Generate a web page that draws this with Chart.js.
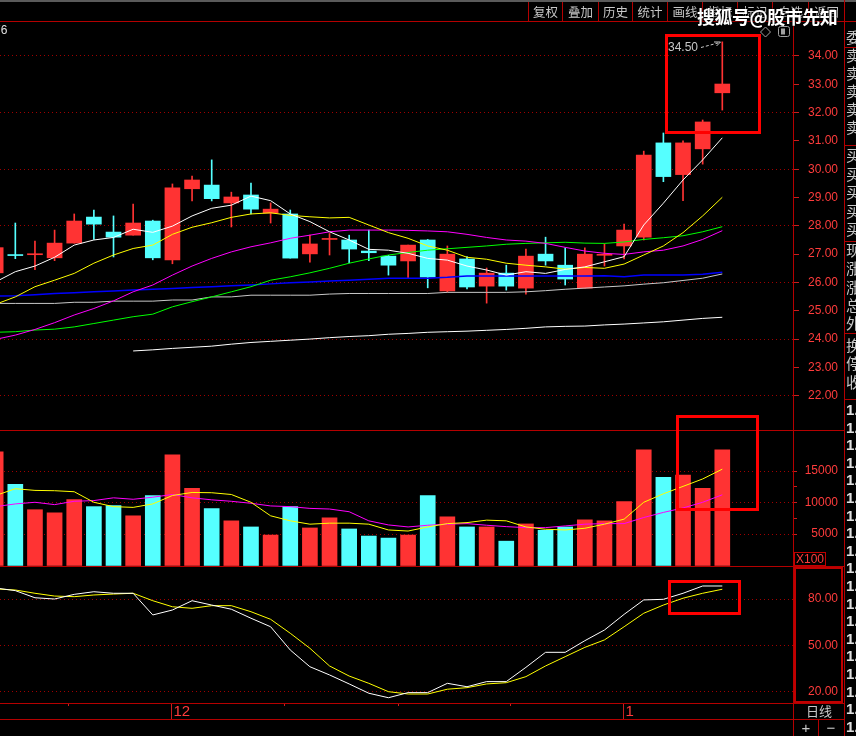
<!DOCTYPE html>
<html>
<head>
<meta charset="utf-8">
<script src="https://cdn.jsdelivr.net/npm/chart.js"></script>
<style>
  body { margin: 0; background: #000; }
  #wrap { position: relative; width: 856px; height: 736px; overflow: hidden; background: #000;
          font-family: "Noto Sans CJK SC", sans-serif; }
  .a { position: absolute; }
  .hl { position: absolute; height: 1px; background: #b40000; }
  .vl { position: absolute; width: 1px; background: #b40000; }
  .btn { position: absolute; top: 2px; height: 19px; line-height: 19px; font-size: 12.5px; color: #c8c8c8; text-align: center; }
  .side { position: absolute; left: 846px; font-size: 15px; line-height: 16px; color: #c8c8c8; white-space: nowrap; }
  .box { position: absolute; border: 3px solid #ff0000; box-sizing: border-box; }
  canvas { position: absolute; left: 0; }
</style>
</head>
<body>
<div id="wrap">
  <canvas id="price" width="838" height="408" style="top:22px"></canvas>
  <canvas id="volume" width="838" height="135" style="top:431px"></canvas>
  <canvas id="kdj" width="838" height="152" style="top:567px"></canvas>

  <!-- frame -->
  <div class="a" style="left:0;top:0;width:856px;height:2px;background:#5a5a5a"></div>
  <div class="hl" style="left:0;top:21px;width:856px"></div>
  <div class="hl" style="left:0;top:430px;width:844px"></div>
  <div class="hl" style="left:0;top:566px;width:844px"></div>
  <div class="hl" style="left:0;top:703px;width:844px"></div>
  <div class="hl" style="left:0;top:719px;width:844px"></div>
  <div class="vl" style="left:844px;top:0;height:736px"></div>
  <div class="vl" style="left:793px;top:703px;height:33px"></div>
  <div class="vl" style="left:818px;top:719px;height:17px"></div>
  <div id="toolbar"></div>
  <div id="sidebar"></div>

  <div class="a" style="left:-6px;top:23px;font:12px 'Liberation Sans';color:#e0e0e0">76</div>
  <div class="a" style="left:697px;top:3px;font-weight:bold;font-size:18px;letter-spacing:-0.5px;color:#fff;text-shadow:0 0 2px #000,0 0 2px #000">搜狐号@股市先知</div>
  <div class="a" style="left:668px;top:40px;font:12px 'Liberation Sans';color:#c8c8c8">34.50</div>

  <svg class="a" style="left:0;top:0" width="856" height="736">
    <path d="M701 47.5 L718 43" stroke="#c8c8c8" stroke-dasharray="3 2" fill="none"/>
    <path d="M714 42 L720.5 42 L716.5 46" stroke="#c8c8c8" fill="none"/>
    <path d="M765.5 27 L770.5 32 L765.5 37 L760.5 32 Z" stroke="#a0a0a0" fill="none"/>
    <rect x="778.5" y="26.5" width="11" height="10" rx="2" stroke="#a0a0a0" fill="none"/>
    <rect x="781" y="28.5" width="4" height="6" fill="#a0a0a0"/>
  </svg>

  <!-- right axis decorations -->
  <div class="a" style="left:794px;top:552px;width:32px;height:14px;box-sizing:border-box;border:1px solid #c00000;font:12px 'Liberation Sans';line-height:12px;color:#ff3c3c;text-align:center">X100</div>
  <div class="a" style="left:794px;top:567px;width:49px;height:136px;box-sizing:border-box;border:2px solid #c00000"></div>
  <div class="a" style="left:794px;top:703px;width:50px;height:16px;line-height:16px;font-size:13px;color:#c8c8c8;text-align:center">日线</div>
  <div class="a" style="left:794px;top:719px;width:24px;height:17px;line-height:17px;font:15px 'Liberation Sans';color:#c8c8c8;text-align:center">+</div>
  <div class="a" style="left:819px;top:719px;width:24px;height:17px;line-height:17px;font:15px 'Liberation Sans';color:#c8c8c8;text-align:center">−</div>

  <!-- red annotation boxes -->
  <div class="box" style="left:665px;top:34px;width:96px;height:100px"></div>
  <div class="box" style="left:676px;top:415px;width:83px;height:96px"></div>
  <div class="box" style="left:668px;top:580px;width:73px;height:35px"></div>
</div>

<script>
// candles (index 0 is cut at the left edge)
const opens  = [26.34, 26.97, 26.98, 26.87, 27.39, 28.31, 27.78, 27.67, 28.17, 26.80, 29.31, 29.44, 28.81, 29.09, 28.45, 28.42, 27.01, 27.52, 27.50, 27.11, 26.93, 26.76, 27.50, 25.70, 26.83, 25.87, 26.33, 25.80, 27.00, 26.61, 25.80, 26.96, 27.29, 27.60, 30.93, 29.81, 30.72, 32.70];
const highs  = [27.23, 28.10, 27.46, 27.85, 28.42, 28.56, 28.35, 28.77, 28.20, 29.48, 29.76, 30.33, 29.19, 29.51, 28.81, 28.56, 27.67, 27.73, 27.67, 27.85, 26.96, 27.32, 27.52, 27.29, 26.91, 26.51, 26.61, 27.18, 27.60, 27.22, 27.22, 27.36, 28.06, 30.64, 31.28, 31.00, 31.74, 34.50];
const lows   = [26.34, 26.84, 26.45, 26.77, 27.39, 27.52, 26.90, 27.67, 26.80, 26.66, 28.88, 28.88, 27.96, 28.42, 28.10, 26.86, 26.72, 26.97, 26.69, 26.77, 26.26, 26.16, 25.81, 25.66, 25.77, 25.27, 25.73, 25.59, 26.61, 25.91, 25.80, 26.58, 26.83, 27.50, 29.56, 28.89, 30.18, 32.09];
const closes = [27.23, 26.95, 27.00, 27.39, 28.17, 28.06, 27.60, 28.10, 26.87, 29.34, 29.62, 28.96, 29.02, 28.59, 28.59, 26.86, 27.36, 27.54, 27.18, 27.05, 26.61, 27.32, 26.19, 27.00, 25.84, 26.33, 25.87, 26.93, 26.76, 26.12, 27.00, 26.99, 27.85, 30.50, 29.74, 30.93, 31.67, 33.01];

// moving averages on price
const ma5   = [26.02, 26.38, 26.58, 26.89, 27.32, 27.50, 27.59, 27.88, 27.77, 27.99, 28.35, 28.62, 28.73, 29.05, 28.89, 28.42, 28.15, 27.79, 27.50, 27.17, 27.14, 27.03, 26.85, 26.79, 26.58, 26.44, 26.26, 26.38, 26.32, 26.46, 26.55, 26.73, 26.91, 28.03, 28.80, 29.62, 30.33, 31.11];
const ma10  = [25.23, 25.49, 25.85, 26.08, 26.32, 26.68, 26.97, 27.20, 27.32, 27.70, 27.95, 28.11, 28.30, 28.42, 28.46, 28.37, 28.32, 28.28, 28.30, 28.03, 27.76, 27.56, 27.29, 27.14, 26.89, 26.82, 26.68, 26.61, 26.55, 26.47, 26.53, 26.50, 26.65, 26.97, 27.29, 27.76, 28.35, 29.01];
const ma20  = [23.99, 24.14, 24.34, 24.58, 24.85, 25.08, 25.35, 25.67, 25.91, 26.26, 26.58, 26.85, 27.08, 27.26, 27.40, 27.56, 27.67, 27.79, 27.85, 27.85, 27.85, 27.84, 27.82, 27.79, 27.70, 27.59, 27.50, 27.46, 27.38, 27.24, 27.11, 27.03, 26.99, 27.08, 27.14, 27.29, 27.52, 27.83];
const ma30  = [24.24, 24.26, 24.32, 24.35, 24.43, 24.55, 24.67, 24.79, 24.88, 25.14, 25.32, 25.49, 25.67, 25.85, 26.08, 26.20, 26.34, 26.50, 26.68, 26.83, 26.97, 27.06, 27.14, 27.19, 27.24, 27.29, 27.35, 27.38, 27.40, 27.42, 27.39, 27.38, 27.43, 27.52, 27.58, 27.65, 27.79, 27.97];
const ma60  = [25.52, 25.53, 25.57, 25.61, 25.64, 25.67, 25.70, 25.73, 25.76, 25.79, 25.82, 25.85, 25.88, 25.91, 25.95, 25.99, 26.02, 26.05, 26.08, 26.11, 26.15, 26.15, 26.15, 26.18, 26.23, 26.23, 26.23, 26.23, 26.23, 26.23, 26.23, 26.24, 26.20, 26.26, 26.26, 26.26, 26.29, 26.36];
const ma120 = [25.26, 25.26, 25.26, 25.26, 25.30, 25.30, 25.34, 25.34, 25.34, 25.38, 25.38, 25.49, 25.49, 25.55, 25.55, 25.55, 25.55, 25.59, 25.61, 25.61, 25.61, 25.61, 25.61, 25.65, 25.65, 25.65, 25.65, 25.67, 25.71, 25.76, 25.80, 25.84, 25.88, 25.94, 25.99, 26.07, 26.15, 26.30];
const ma250 = [null, null, null, null, null, null, null, 23.58, 23.62, 23.67, 23.71, 23.75, 23.82, 23.88, 23.92, 23.96, 24.00, 24.05, 24.09, 24.12, 24.17, 24.20, 24.24, 24.26, 24.28, 24.31, 24.34, 24.38, 24.43, 24.45, 24.46, 24.50, 24.53, 24.57, 24.61, 24.67, 24.73, 24.77];

// volume (x100) and its averages
const volumes = [18070, 12900, 8870, 8390, 10480, 9360, 9520, 7900, 11130, 17580, 12260, 9030, 7100, 6130, 4840, 9360, 5970, 7580, 5810, 4680, 4360, 4840, 11130, 7740, 6130, 6130, 3870, 6610, 5600, 6130, 7260, 7100, 10160, 18390, 14030, 14360, 12260, 18390];
const volMa5  = [11130, 12210, 11940, 11890, 11730, 10050, 9360, 9240, 9790, 11130, 11610, 11570, 11290, 10050, 7900, 7100, 6570, 6730, 6730, 6570, 5650, 5480, 6130, 6660, 6820, 7210, 7100, 6130, 5760, 5650, 5920, 6570, 7370, 10050, 11400, 12580, 13760, 15320];
const volMa10 = [9360, 9790, 10050, 9680, 10210, 10320, 10760, 10530, 10860, 11290, 10760, 10440, 10210, 9890, 9470, 9360, 9080, 8980, 8550, 7100, 6450, 6130, 6400, 6570, 6660, 6400, 6180, 6020, 6020, 6290, 6570, 6660, 6660, 7630, 8440, 9150, 10050, 11240];

// KDJ
const kdjK = [87.1, 85.4, 80.8, 80.0, 83.0, 84.7, 83.7, 83.7, 69.7, 72.9, 78.9, 76.1, 73.4, 67.6, 62.1, 47.1, 36.3, 31.0, 25.2, 19.2, 16.3, 19.6, 19.6, 25.6, 23.4, 26.7, 26.7, 35.9, 45.6, 45.6, 53.1, 60.0, 70.1, 79.4, 79.8, 83.7, 88.4, 88.4];
const kdjD = [86.5, 85.8, 83.7, 81.9, 81.5, 82.6, 83.2, 83.7, 78.9, 75.0, 74.0, 75.7, 75.7, 71.8, 66.9, 57.9, 48.2, 36.8, 30.3, 25.6, 20.2, 18.7, 18.7, 21.8, 22.8, 25.2, 26.0, 29.9, 36.8, 42.8, 48.8, 53.6, 62.1, 70.8, 76.1, 80.5, 83.7, 86.3];

// axis ticks
const priceTicks = [22, 23, 24, 25, 26, 27, 28, 29, 30, 31, 32, 33, 34];
const priceGrid = [22, 24, 26, 28, 30, 32, 34];
const volumeTicks = [5000, 7500, 10000, 12500, 15000];
const volumeLabels = [5000, 10000, 15000];
const kdjTicks = [20, 50, 80];
const monthTickIdx = [9, 32];
const monthLabels = ['12', '1'];
const weekTickIdx = [3.7, 14.7, 20.5, 26.2];

const RED = '#ff3333', CYAN = '#55ffff';
const frameRed = '#b40000', gridRed = '#a00000', labelRed = '#ff3c3c', tickRed = '#c81e1e';

const days = closes.map((_, i) => i);
const barColors = days.map(i => closes[i] >= opens[i] ? RED : CYAN);
const pts = arr => arr.map((v, i) => v == null ? null : { x: i, y: v }).filter(Boolean);

const line = (arr, color, w) => ({
  type: 'line', data: pts(arr), borderColor: color, borderWidth: w || 1,
  pointRadius: 0, tension: 0, fill: false, order: 0
});

// right axis: 45px wide, labels right-aligned on its outer edge
function yAxis(o) {
  return {
    position: 'right', min: o.min, max: o.max,
    afterBuildTicks: s => { s.ticks = o.ticks.map(v => ({ value: v })); },
    afterFit: s => { s.width = 45; s.paddingTop = 0; s.paddingBottom = 0; },
    grid: {
      color: c => (c.tick && o.grid.includes(c.tick.value)) ? gridRed : 'rgba(0,0,0,0)',
      tickColor: tickRed, tickLength: o.tickLength || 0, drawTicks: !!o.tickLength, lineWidth: 1
    },
    border: { color: frameRed, width: 1, dash: [1, 3] },
    ticks: {
      color: labelRed, padding: 4, crossAlign: 'far', autoSkip: false,
      font: { family: 'Liberation Sans', size: 12 },
      callback: o.label
    }
  };
}

function options(y, bottomPad) {
  return {
    responsive: false, animation: false, events: [],
    layout: { padding: { left: 0, right: 0, top: 0, bottom: bottomPad || 0 } },
    plugins: { legend: { display: false }, tooltip: { enabled: false } },
    scales: {
      x: { type: 'linear', min: 0.22, max: 40.6, display: false, offset: false },
      y
    }
  };
}

new Chart(document.getElementById('price'), {
  type: 'bar',
  data: {
    datasets: [
      line(ma5, '#ffffff'),
      line(ma10, '#ffff00'),
      line(ma20, '#ff00ff'),
      line(ma30, '#00ff00'),
      line(ma60, '#0000ff', 1.5),
      line(ma120, '#c8c8c8'),
      line(ma250, '#ffffff'),
      { type: 'bar', data: days.map(i => ({ x: i, y: [lows[i], highs[i]] })), backgroundColor: barColors,
        barThickness: 1, grouped: false, borderWidth: 0, order: 2 },
      { type: 'bar', data: days.map(i => ({ x: i, y: [opens[i], closes[i]] })), backgroundColor: barColors,
        barThickness: 15, minBarLength: 1, grouped: false, borderWidth: 0, order: 1 }
    ]
  },
  options: options(yAxis({
    min: 20.788, max: 35.201, ticks: priceTicks, grid: priceGrid, tickLength: 6,
    label: v => v.toFixed(2)
  }))
});

new Chart(document.getElementById('volume'), {
  type: 'bar',
  data: {
    datasets: [
      line(volMa5, '#ffff00'),
      line(volMa10, '#ff00ff'),
      { type: 'bar', data: days.map(i => ({ x: i, y: volumes[i] })), backgroundColor: barColors,
        barThickness: 15, grouped: false, borderWidth: 0, order: 1 }
    ]
  },
  options: options(yAxis({
    min: -80, max: 21385, ticks: volumeTicks, grid: volumeLabels, tickLength: 4,
    label: v => volumeLabels.includes(v) ? String(v) : ''
  }))
});

const dateBand = {
  id: 'dateBand',
  afterDraw(chart) {
    const { ctx, chartArea, scales: { x } } = chart;
    const top = chartArea.bottom, bottom = top + 16;
    ctx.save();
    ctx.strokeStyle = tickRed;
    ctx.lineWidth = 1;
    weekTickIdx.forEach(v => {
      const px = Math.round(x.getPixelForValue(v)) + 0.5;
      ctx.beginPath(); ctx.moveTo(px, top); ctx.lineTo(px, top + 3); ctx.stroke();
    });
    ctx.fillStyle = labelRed;
    ctx.font = '15px "Liberation Sans"';
    ctx.textBaseline = 'middle';
    monthTickIdx.forEach((v, k) => {
      const px = Math.round(x.getPixelForValue(v)) - 0.5;
      ctx.beginPath(); ctx.moveTo(px, top); ctx.lineTo(px, bottom); ctx.stroke();
      ctx.fillText(monthLabels[k], px + 2, top + 8.5);
    });
    ctx.restore();
  }
};

new Chart(document.getElementById('kdj'), {
  type: 'line',
  data: {
    datasets: [
      line(kdjK, '#ffffff'),
      line(kdjD, '#ffff00')
    ]
  },
  options: options(yAxis({
    min: 12.9, max: 100.65, ticks: kdjTicks, grid: kdjTicks, tickLength: 0,
    label: v => v.toFixed(2)
  }), 16),
  plugins: [dateBand]
});

// toolbar
const toolbarSeps = [528, 562, 598, 632, 667, 702, 737, 772, 808, 844];
const toolbarNames = ['复权', '叠加', '历史', '统计', '画线', '指标', '标记', '自选', '返回'];
let tb = '';
toolbarSeps.forEach((x, k) => {
  tb += `<div class="vl" style="left:${x}px;top:2px;height:19px"></div>`;
  if (k < toolbarNames.length) {
    tb += `<div class="btn" style="left:${x + 1}px;width:${toolbarSeps[k + 1] - x - 1}px">${toolbarNames[k]}</div>`;
  }
});
document.getElementById('toolbar').innerHTML = tb;

// right-hand quote column (cut off by the window edge)
const sideRows = [['委', 37], ['卖', 55], ['卖', 73], ['卖', 91], ['卖', 109], ['卖', 127],
  ['买', 155], ['买', 174], ['买', 192], ['买', 211], ['买', 229],
  ['现', 250], ['涨', 268], ['涨', 287], ['总', 305], ['外', 323],
  ['换', 345], ['停', 363], ['收', 382]];
const sideSeps = [47, 145, 241, 333, 399];
let sb = '';
sideRows.forEach(([t, y]) => { sb += `<div class="side" style="top:${y - 8}px">${t}</div>`; });
for (let y = 409; y < 740; y += 17.6) {
  sb += `<div class="side" style="top:${y - 8}px;font:bold 15px 'Liberation Sans';color:#e0e0e0">1.</div>`;
}
sideSeps.forEach(y => { sb += `<div class="hl" style="left:844px;top:${y}px;width:12px"></div>`; });
document.getElementById('sidebar').innerHTML = sb;
</script>
</body>
</html>
